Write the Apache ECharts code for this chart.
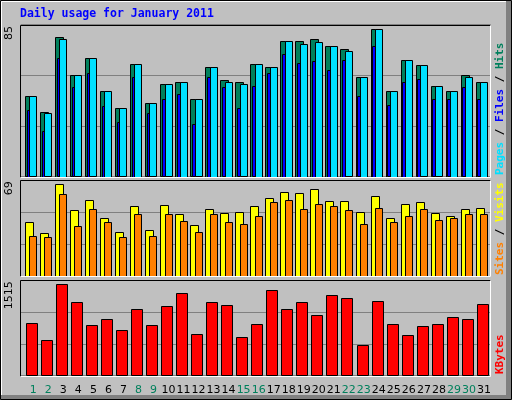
<!DOCTYPE html><html><head><meta charset="utf-8">
<script src="https://cdn.jsdelivr.net/npm/echarts@6/dist/echarts.min.js"></script>
<style>html,body{margin:0;padding:0;background:#c0c0c0}#c{width:512px;height:400px}</style></head><body><div id="c"></div>
<script>
const days=[1,2,3,4,5,6,7,8,9,10,11,12,13,14,15,16,17,18,19,20,21,22,23,24,25,26,27,28,29,30,31];
const weekend=[1,2,8,9,15,16,22,23,29,30];
const hits=[45.5,36.5,79,57.4,67,48.5,38.7,64,41.5,52.3,53.5,43.8,62,54.6,53.5,64,62,76.7,76.7,77.8,73.9,72.2,56.3,83.5,48.4,66,63,51.2,48.4,57.4,53.5];
const files=[45.5,35.9,77.8,57.4,67,48.5,38.7,64,41.5,52.3,53.5,43.8,62,53.5,52.3,64,62,76.7,75,76.2,73.9,71,56.3,83.5,48.4,66,63,51.2,48.4,56.3,53.5];
const pages=[37.8,25.9,67,50.6,58.6,39.9,30.8,56.3,35.9,43.8,46.7,29.7,56.3,50.6,38.7,51.2,58.6,69.4,64.3,65.4,60.3,66,45.5,73.9,40.4,53.5,55.2,43.8,43.8,50.6,43.8];
const visits=[38.8,30.9,66.1,47.4,54.6,41.7,31.6,50.3,33,51,44.6,36.7,48.2,45.3,46,50.3,56,60.4,59.7,62.5,53.9,53.9,46,57.5,41.7,51.8,53.2,45.3,43.1,48.2,48.9];
const sites=[28.8,28,58.9,35.9,48.2,38.8,28,44.6,28.8,44.6,39.5,31.6,44.6,38.8,37.4,43.1,53.2,54.6,48.2,51.8,50.3,47.4,37.4,48.9,38.8,43.1,48.2,40.3,41.7,44.6,44.6];
const kbytes=[815,550,1422,1142,784,877,706,1033,784,1080,1282,644,1142,1095,597,799,1329,1033,1142,939,1251,1204,472,1157,799,628,768,799,908,877,1111];
const maxLabels=['85','69','1515'];

const chart=echarts.init(document.getElementById('c'),null,{renderer:'canvas'});
const XMIN=0.294,XMAX=31.58;
const grids=[{left:20.7,right:21.3,top:24.7,height:152},{left:20.7,right:21.3,top:180.3,height:96},{left:20.7,right:21.3,top:280.3,height:95.4}];
const xAxes=grids.map((g,i)=>({type:'value',gridIndex:i,min:XMIN,max:XMAX,show:false}));
const ymax=[86,69,1484];
const yAxes=ymax.map((m,i)=>({type:'value',gridIndex:i,min:0,max:m,interval:m/3,axisLabel:{show:false},axisLine:{show:false},axisTick:{show:false},splitLine:{show:true,lineStyle:{color:'#808080',width:1}}}));
const bs={stroke:'#000',lineWidth:1};
function rect(x,y,w,h,fill){return {type:'rect',shape:{x:Math.round(x)+0.5,y:Math.round(y)+0.5,width:Math.round(w),height:Math.round(h)},style:Object.assign({fill:fill},bs)};}
const topData=days.map((d,i)=>[d,hits[i],files[i],pages[i]]);
const midData=days.map((d,i)=>[d,visits[i],sites[i]]);
const botData=days.map((d,i)=>[d,kbytes[i]]);
const series=[
{type:'custom',xAxisIndex:0,yAxisIndex:0,data:topData,clip:false,renderItem:(p,api)=>{
 const d=api.value(0),b=api.coord([d,0]);const h=api.coord([d,api.value(1)]),f=api.coord([d,api.value(2)]),pg=api.coord([d,api.value(3)]);
 const c=b[0];
 return {type:'group',children:[rect(c-6.3,h[1],8,b[1]-h[1],'#00805c'),rect(c-4.6,pg[1],3,b[1]-pg[1],'#0000ff'),rect(c-2,f[1],7.4,b[1]-f[1],'#00e0ff')]};}},
{type:'custom',xAxisIndex:1,yAxisIndex:1,data:midData,clip:false,renderItem:(p,api)=>{
 const d=api.value(0),b=api.coord([d,0]);const v=api.coord([d,api.value(1)]),s=api.coord([d,api.value(2)]);const c=b[0];
 return {type:'group',children:[rect(c-6.3,v[1],8.3,b[1]-v[1],'#ffff00'),rect(c-2,s[1],7.4,b[1]-s[1],'#ff8000')]};}},
{type:'custom',xAxisIndex:2,yAxisIndex:2,data:botData,clip:false,renderItem:(p,api)=>{
 const d=api.value(0),b=api.coord([d,0]);const k=api.coord([d,api.value(1)]);const c=b[0];
 return {type:'group',children:[rect(c-5.3,k[1],10.7,b[1]-k[1],'#ff0000'),
 {type:'text',x:c+2,y:390,style:{text:String(d),fill:weekend.includes(d)?'#00805c':'#000',font:'11px "DejaVu Sans"',align:'center',verticalAlign:'middle'}}]};}}
];
const G=[];
// outer 3D border
G.push({type:'rect',shape:{x:0.5,y:0.5,width:511,height:399},style:{fill:'none',stroke:'#000',lineWidth:1}});
G.push({type:'polyline',shape:{points:[[1.5,398],[1.5,1.5],[510,1.5]]},style:{stroke:'#fff',fill:'none',lineWidth:1}});
G.push({type:'rect',shape:{x:506,y:1,width:5,height:398},style:{fill:'#808080'}});
G.push({type:'rect',shape:{x:1,y:395,width:510,height:4},style:{fill:'#808080'}});
// panel frames
grids.forEach(g=>{const x0=20.5,x1=490.5,y0=Math.round(g.top)+0.5,y1=Math.round(g.top+g.height)+0.5;
 G.push({type:'polyline',z:10,shape:{points:[[x0,y1],[x0,y0],[x1,y0]]},style:{stroke:'#000',fill:'none',lineWidth:1}});
 G.push({type:'polyline',z:10,shape:{points:[[x1,y0],[x1,y1],[x0,y1]]},style:{stroke:'#fff',fill:'none',lineWidth:1}});});
G.push({type:'text',x:20,y:14,style:{text:'Daily usage for January 2011',fill:'#0000ff',font:'bold 11.5px "DejaVu Sans Mono"',verticalAlign:'middle'}});
const lblY=[25,180.3,280.3];
maxLabels.forEach((t,i)=>G.push({type:'text',x:9,y:lblY[i]+1,rotation:Math.PI/2,style:{text:t,fill:'#000',font:'11px "DejaVu Sans"',align:'right',verticalAlign:'middle'}}));
function rlabel(parts,yb){G.push({type:'text',x:500,y:yb,rotation:Math.PI/2,style:{rich:{a:{}},text:parts.map(p=>'{'+p[1]+'|'+p[0]+'}').join(''),font:'bold 11px "DejaVu Sans Mono"',align:'left',verticalAlign:'middle',rich:Object.fromEntries(parts.map(p=>[p[1],{fill:p[2],font:'bold 11px "DejaVu Sans Mono"'}]))}});}
rlabel([['Pages','p','#00e0ff'],[' / ','s','#000'],['Files','f','#0000ff'],[' / ','t','#000'],['Hits','h','#00805c']],175);
rlabel([['Sites','p','#ff8000'],[' / ','s','#000'],['Visits','f','#ffff00']],275);
rlabel([['KBytes','p','#ff0000']],374);
chart.setOption({animation:false,backgroundColor:'#c0c0c0',grid:grids,xAxis:xAxes,yAxis:yAxes,series:series,graphic:{elements:G}});
</script></body></html>
